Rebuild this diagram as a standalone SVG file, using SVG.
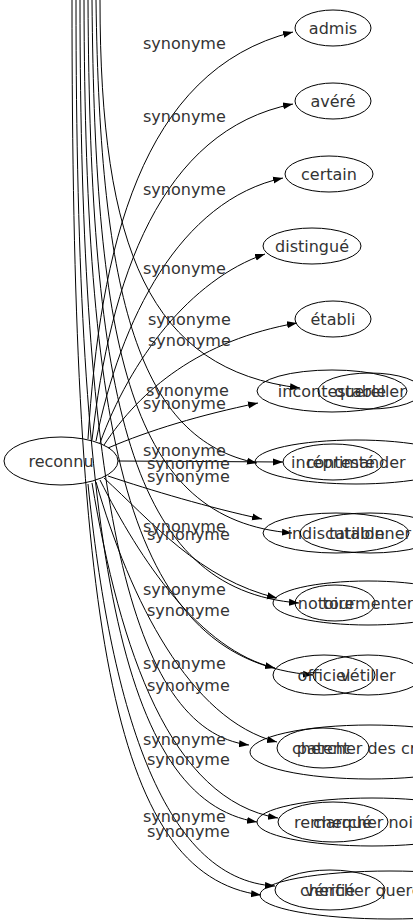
<svg xmlns="http://www.w3.org/2000/svg" width="413" height="923" viewBox="0 0 413 923">
<defs>
<marker id="ah" viewBox="0 0 10 10" refX="10" refY="5" markerWidth="10" markerHeight="10" markerUnits="userSpaceOnUse" orient="auto"><path d="M0,1.5 L10,5 L0,8.5 z" fill="#000"/></marker>
<style>
.n ellipse{fill:none;stroke:#000;stroke-width:1}
text{font-family:"DejaVu Sans",sans-serif;font-size:16px;fill:#333}
.n text{text-anchor:middle}
.e path{fill:none;stroke:#000;stroke-width:1;marker-end:url(#ah)}
.l text{text-anchor:start}
</style>
</defs>
<rect width="413" height="923" fill="#fff"/>
<g class="e" id="edges">
<path d="M88,439 C100,250 140,70 293,32"/>
<path d="M92,440 C110,280 160,130 293,104"/>
<path d="M96,441 C120,320 180,200 283,178"/>
<path d="M100,443 C130,360 190,280 265,254"/>
<path d="M104,445 C140,390 200,340 297,323"/>
<path d="M108,448 C150,430 200,415 258,403"/>
<path d="M118,461 L283,462"/>
<path d="M108,476 C150,490 210,508 262,519"/>
<path d="M104,478 C150,520 200,580 277,598"/>
<path d="M100,480 C140,560 200,650 275,668"/>
<path d="M96,482 C130,600 190,720 277,742"/>
<path d="M92,483 C120,650 170,800 278,818"/>
<path d="M88,484 C110,700 160,880 275,886"/>
<path d="M100,0 C100,250 150,370 300,388"/>
<path d="M96,0 C100,300 140,440 257,463"/>
<path d="M92,0 C95,350 130,520 292,533"/>
<path d="M88,0 C90,400 130,590 299,603"/>
<path d="M84,0 C85,450 130,660 313,675"/>
<path d="M80,0 C80,500 130,730 249,745"/>
<path d="M76,0 C76,550 120,800 257,822"/>
<path d="M72,0 C72,620 110,875 261,895"/>
</g>
<g class="l" id="labels">
<text x="143" y="49">synonyme</text>
<text x="143" y="122">synonyme</text>
<text x="143" y="195">synonyme</text>
<text x="143" y="274">synonyme</text>
<text x="148" y="325">synonyme</text>
<text x="148" y="346">synonyme</text>
<text x="146" y="396">synonyme</text>
<text x="143" y="409">synonyme</text>
<text x="143" y="456">synonyme</text>
<text x="147" y="469">synonyme</text>
<text x="147" y="482">synonyme</text>
<text x="143" y="532">synonyme</text>
<text x="147" y="540">synonyme</text>
<text x="143" y="595">synonyme</text>
<text x="147" y="616">synonyme</text>
<text x="143" y="669">synonyme</text>
<text x="147" y="691">synonyme</text>
<text x="143" y="745">synonyme</text>
<text x="147" y="765">synonyme</text>
<text x="143" y="822">synonyme</text>
<text x="147" y="837">synonyme</text>
</g>
<g class="n" id="reconnu"><ellipse cx="61" cy="461" rx="57" ry="24"/><text x="61" y="467">reconnu</text></g>
<g class="n" id="admis"><ellipse cx="333" cy="28" rx="38" ry="18"/><text x="333" y="34">admis</text></g>
<g class="n" id="avere"><ellipse cx="333" cy="101" rx="38" ry="18"/><text x="333" y="107">avéré</text></g>
<g class="n" id="certain"><ellipse cx="329" cy="174" rx="44" ry="18"/><text x="329" y="180">certain</text></g>
<g class="n" id="distingue"><ellipse cx="312" cy="246" rx="49" ry="18"/><text x="312" y="252">distingué</text></g>
<g class="n" id="etabli"><ellipse cx="333" cy="319" rx="38" ry="18"/><text x="333" y="325">établi</text></g>
<g class="n" id="incontestable"><ellipse cx="332" cy="391" rx="75" ry="21"/><text x="332" y="397">incontestable</text></g>
<g class="n" id="quereller"><ellipse cx="370" cy="391" rx="52" ry="18"/><text x="370" y="397">quereller</text></g>
<g class="n" id="inconteste"><ellipse cx="333" cy="462" rx="50" ry="18"/><text x="333" y="468">incontesté</text></g>
<g class="n" id="reprimander"><ellipse cx="356" cy="462" rx="101" ry="22"/><text x="356" y="468">réprimander</text></g>
<g class="n" id="indiscutable"><ellipse cx="336" cy="533" rx="73" ry="20"/><text x="336" y="539">indiscutable</text></g>
<g class="n" id="tatillonner"><ellipse cx="370" cy="533" rx="70" ry="20"/><text x="370" y="539">tatillonner</text></g>
<g class="n" id="notoire"><ellipse cx="335" cy="603" rx="40" ry="18"/><text x="326" y="609">notoire</text></g>
<g class="n" id="tourmenter"><ellipse cx="368" cy="603" rx="95" ry="22"/><text x="368" y="609">tourmenter</text></g>
<g class="n" id="officiel"><ellipse cx="324" cy="675" rx="51" ry="20"/><text x="324" y="681">officiel</text></g>
<g class="n" id="vetiller"><ellipse cx="368" cy="675" rx="55" ry="20"/><text x="368" y="681">vétiller</text></g>
<g class="n" id="patent"><ellipse cx="323" cy="748" rx="46" ry="20"/><text x="323" y="754">patent</text></g>
<g class="n" id="chercher-des-crosses"><ellipse cx="370" cy="752" rx="120" ry="27"/><text x="292" y="754" style="text-anchor:start">chercher des crosses</text></g>
<g class="n" id="remarque"><ellipse cx="333" cy="822" rx="55" ry="20"/><text x="333" y="828">remarqué</text></g>
<g class="n" id="chercher-noise"><ellipse cx="372" cy="822" rx="115" ry="24"/><text x="313" y="828" style="text-anchor:start">chercher noise</text></g>
<g class="n" id="verifie"><ellipse cx="330" cy="890" rx="55" ry="20"/><text x="330" y="896">vérifié</text></g>
<g class="n" id="chercher-querelle"><ellipse cx="390" cy="895" rx="130" ry="24"/><text x="300" y="896" style="text-anchor:start">chercher querelle</text></g>
</svg>
